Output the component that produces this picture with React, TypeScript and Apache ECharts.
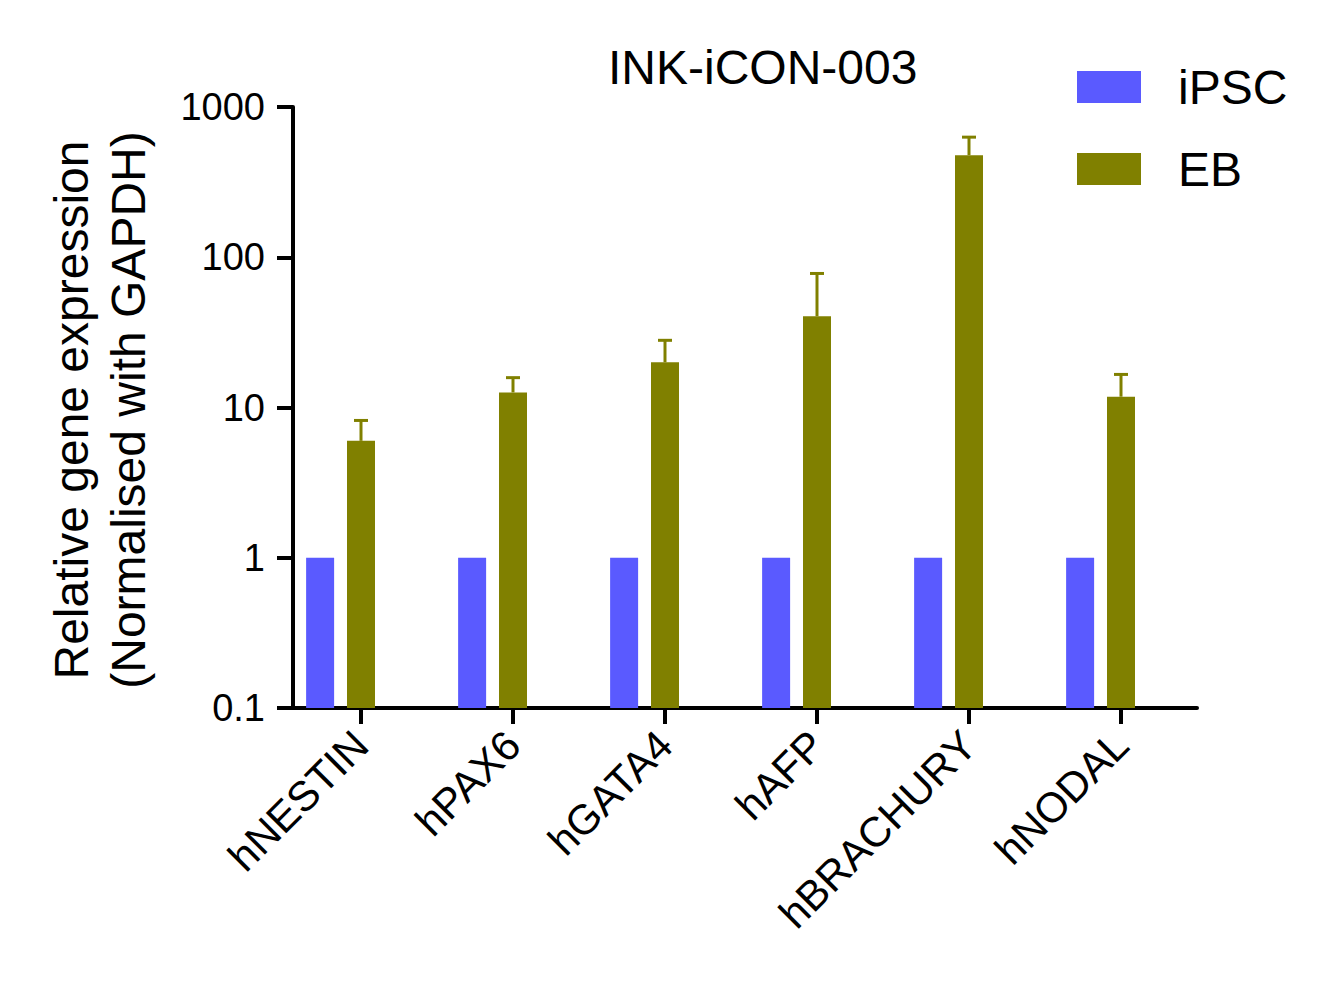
import React, { useEffect, useRef } from 'react';
import * as echarts from 'echarts';

const categories = ['hNESTIN', 'hPAX6', 'hGATA4', 'hAFP', 'hBRACHURY', 'hNODAL'];
const ipscValues = [1, 1, 1, 1, 1, 1];
const ebValues = [6.0, 12.6, 20, 40.5, 478, 11.8];
const ebErrorTop = [8.2, 15.8, 28, 78, 630, 16.6];
const yTickLabels = ['0.1', '1', '10', '100', '1000'];
const seriesNames = ['iPSC', 'EB'];
const titleText = 'INK-iCON-003';
const yAxisTitle = 'Relative gene expression\n(Normalised with GAPDH)';

const FONT = '"Liberation Sans", Arial, Helvetica, sans-serif';
const BLUE = '#5a5aff';
const OLIVE = '#808000';

// log10 scale shifted so that the axis minimum (0.1) maps to 0
const toAxis = (v: number) => Math.log10(v) + 1;

export default function App() {
  const ref = useRef<HTMLDivElement>(null);
  useEffect(() => {
    if (!ref.current) return;
    const chart = echarts.init(ref.current, undefined, { renderer: 'svg' });
    const option: any = {
      animation: false,
      backgroundColor: '#ffffff',
      textStyle: { fontFamily: FONT },
      title: {
        text: titleText,
        left: 603,
        top: 38,
        textStyle: { fontSize: 48, fontWeight: 'normal', color: '#000', fontFamily: FONT },
      },
      legend: {
        data: seriesNames,
        orient: 'vertical',
        left: 1072,
        top: 58,
        itemWidth: 64,
        itemHeight: 32,
        itemGap: 34,
        icon: 'rect',
        textStyle: { fontSize: 48, color: '#000', fontFamily: FONT, padding: [0, 0, 0, 32] },
      },
      grid: { left: 285, top: 107, width: 912, height: 601, containLabel: false },
      xAxis: {
        type: 'category',
        data: categories,
        axisLine: { lineStyle: { color: '#000', width: 4 } },
        axisTick: { show: true, alignWithLabel: true, length: 16, lineStyle: { color: '#000', width: 4 } },
        axisLabel: { rotate: 45, fontSize: 42, color: '#000', margin: 30, fontFamily: FONT },
      },
      yAxis: {
        type: 'value',
        min: 0,
        max: 4,
        interval: 1,
        offset: -8,
        splitLine: { show: false },
        axisLine: { show: true, lineStyle: { color: '#000', width: 4 } },
        axisTick: { show: true, length: 16, lineStyle: { color: '#000', width: 4 } },
        axisLabel: {
          fontSize: 38,
          color: '#000',
          margin: 28,
          fontFamily: FONT,
          formatter: (v: number) => yTickLabels[Math.round(v)],
        },
      },
      graphic: [
        {
          type: 'text',
          x: 100,
          y: 410,
          rotation: Math.PI / 2,
          style: {
            text: yAxisTitle,
            fontSize: 48,
            fontFamily: FONT,
            fill: '#000',
            align: 'center',
            verticalAlign: 'middle',
            lineHeight: 57,
          },
        },
      ],
      series: [
        {
          name: seriesNames[0],
          type: 'bar',
          data: ipscValues.map(toAxis),
          barWidth: 28,
          barGap: '46%',
          itemStyle: { color: BLUE },
        },
        {
          name: seriesNames[1],
          type: 'bar',
          data: ebValues.map(toAxis),
          barWidth: 28,
          barGap: '46%',
          itemStyle: { color: OLIVE },
        },
        {
          name: 'spacer',
          type: 'bar',
          data: categories.map(() => '-'),
          barWidth: 28,
          barGap: '46%',
        },
        {
          name: 'EB error',
          type: 'custom',
          z: 5,
          data: categories.map((_, i) => [i, toAxis(ebValues[i]), toAxis(ebErrorTop[i])]),
          encode: { x: 0, y: 2 },
          renderItem: (_params: any, api: any) => {
            const i = api.value(0);
            const base = api.coord([i, api.value(1)]);
            const top = api.coord([i, api.value(2)]);
            return {
              type: 'group',
              children: [
                {
                  type: 'line',
                  shape: { x1: base[0], y1: base[1], x2: top[0], y2: top[1] },
                  style: { stroke: OLIVE, lineWidth: 3 },
                },
                {
                  type: 'line',
                  shape: { x1: top[0] - 7, y1: top[1], x2: top[0] + 7, y2: top[1] },
                  style: { stroke: OLIVE, lineWidth: 3 },
                },
              ],
            };
          },
        },
      ],
    };
    chart.setOption(option);
    return () => chart.dispose();
  }, []);
  return (
    <div
      ref={ref}
      style={{ position: 'fixed', left: 0, top: 0, width: 1332, height: 992, background: '#fff' }}
    />
  );
}
